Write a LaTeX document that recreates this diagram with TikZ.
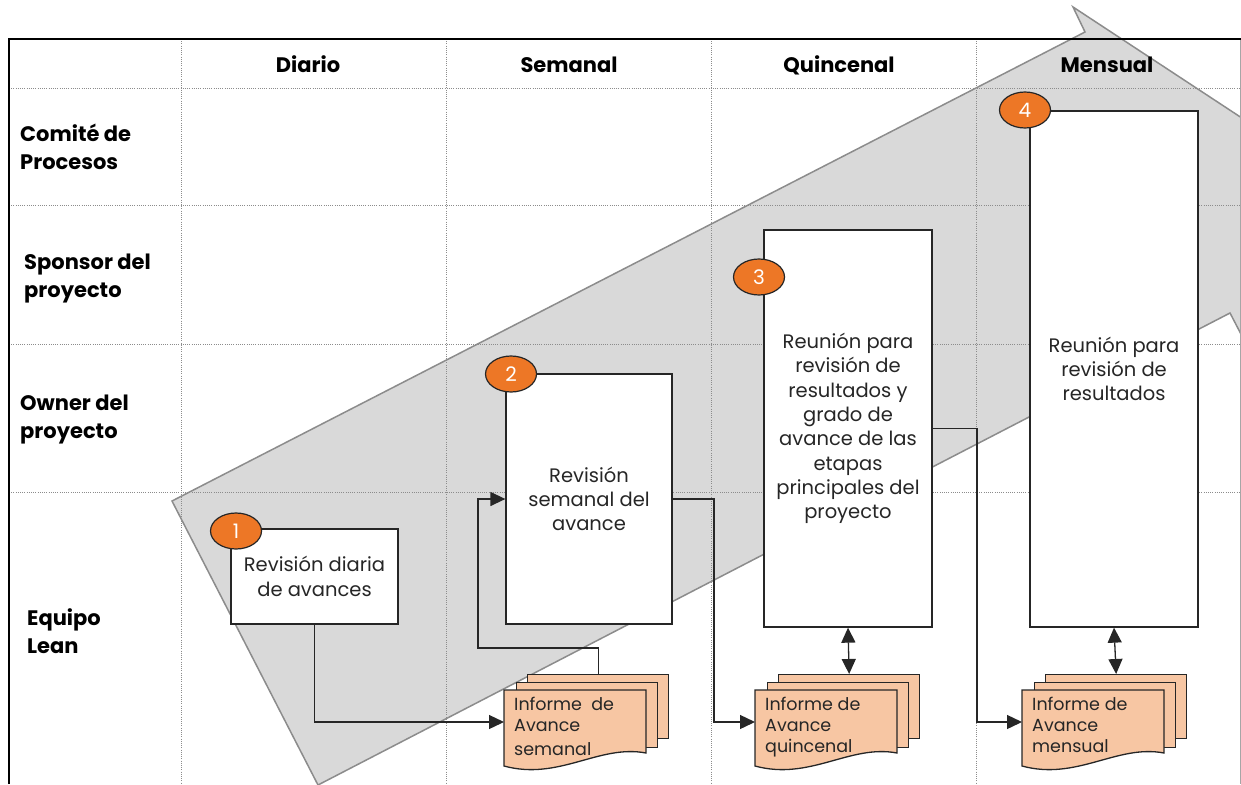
\documentclass[tikz,border=0pt]{standalone}
\usepackage{fontspec}
\setmainfont{Poppins}
\usetikzlibrary{arrows.meta,shapes.geometric}
\definecolor{bandfill}{HTML}{D9D9D9}
\definecolor{bandedge}{HTML}{8C8C8C}
\definecolor{badgefill}{HTML}{ED7726}
\definecolor{docfill}{HTML}{F7C6A3}
\definecolor{ink}{HTML}{262626}

% stack of three report sheets: name, left x of the front sheet, baseline of last line, text
\newcommand\docstack[4]{%
  \node[sheet, anchor=north west, minimum width=141pt, minimum height=64pt] (#1-back) at ({#2+23},674) {};
  \node[sheet, anchor=north west, minimum width=141pt, minimum height=65pt] (#1-mid) at ({#2+12},682) {};
  \path[sheet] (#2,690) -- ({#2+142},690) -- ({#2+142},753)
     .. controls ({#2+95},744) and ({#2+55},781) .. (#2,766) -- cycle;
  \node[inner sep=0, anchor=north west, minimum width=142pt, minimum height=76pt] (#1) at (#2,690) {};
  \coordinate (#1-in) at (#2,722);
  \node[doctext] (#1-text) at ({#2+10},#3) {#4};
}

\begin{document}
\begin{tikzpicture}[x=1pt,y=-1pt,
  grid/.style={draw=black!45, line width=0.8pt, dash pattern=on 1pt off 1.2pt},
  colhead/.style={font=\fontsize{21}{28}\selectfont\bfseries, anchor=base, inner sep=0},
  role/.style={font=\fontsize{21}{28}\selectfont\bfseries, anchor=base west, align=left, inner sep=0},
  task/.style={draw=ink, fill=white, line width=1.3pt, align=center, inner sep=0,
     font=\fontsize{19.5}{24.3}\selectfont, text=ink},
  badge/.style={ellipse, draw=ink, fill=badgefill, line width=1.2pt, minimum width=51pt,
     minimum height=36pt, inner sep=0, text=white, font=\fontsize{20}{20}\selectfont},
  link/.style={draw=ink, line width=1.3pt},
  tip/.style={arrows={-Triangle[length=15pt,width=14pt]}},
  both/.style={arrows={Triangle[length=15pt,width=14pt]-Triangle[length=15pt,width=14pt]}},
  sheet/.style={draw=ink, fill=docfill, line width=1.3pt, inner sep=0},
  doctext/.style={font=\fontsize{17.5}{21}\selectfont, anchor=base west, align=left, inner sep=0, text=ink}
]
\useasboundingbox (0,0) rectangle (1241,784);

% progression band behind the table
\begin{scope}
  \clip (0,0) rectangle (1241,784);
  \path[fill=bandfill, draw=bandedge, line width=1.5pt]
    (172,501) -- (1085,32) -- (1073,7) -- (1251,124) -- (1243,338) -- (1230,313) -- (318,785) -- cycle;
\end{scope}

% table grid
\foreach \x in {181,446,711,976} \draw[grid] (\x,39) -- (\x,784);
\foreach \y in {88,205,344,492} \draw[grid] (9,\y) -- (1241,\y);
\draw[black!35, line width=1pt] (1240,39) -- (1240,784);
\draw[black, line width=1.4pt] (9,784) -- (9,39) -- (1241,39);

% column headings
\node[colhead] (h1) at (308,72) {Diario};
\node[colhead] (h2) at (569,72) {Semanal};
\node[colhead] (h3) at (839,72) {Quincenal};
\node[colhead] (h4) at (1107,72) {Mensual};

% row headings (anchored on the baseline of the last line)
\node[role] (r1) at (20,169) {Comité de\\Procesos};
\node[role] (r2) at (24,297) {Sponsor del\\proyecto};
\node[role] (r3) at (20,438) {Owner del\\proyecto};
\node[role] (r4) at (27,653) {Equipo\\Lean};

% activities
\node[task, minimum width=167pt, minimum height=95pt] (b1) at (314.5,576.5) {Revisión diaria\\de avances};
\node[task, minimum width=166pt, minimum height=250pt] (b2) at (589,499) {Revisión\\semanal del\\avance};
\node[task, minimum width=168pt, minimum height=397pt] (b3) at (848,428.5)
  {Reunión para\\revisión de\\resultados y\\grado de\\avance de las\\etapas\\principales del\\proyecto};
\node[task, minimum width=168pt, minimum height=516pt] (b4) at (1114,369) {Reunión para\\revisión de\\resultados};

\node[badge] (n1) at (236,531) {1};
\node[badge] (n2) at (511,374) {2};
\node[badge] (n3) at (759,277) {3};
\node[badge] (n4) at (1025,110) {4};

% reports
\docstack{ds}{504}{755}{Informe\ \ de\\Avance\\[3pt]semanal}
\docstack{dq}{755}{752}{Informe de\\Avance\\quincenal}
\docstack{dm}{1022}{752}{Informe de\\Avance\\mensual}

% flows
\coordinate (loop) at (478,648);
\coordinate (r2) at (714,722);
\coordinate (r3) at (977,722);
\draw[link, tip] (b1.south) |- (ds-in);
\draw[link, tip] (ds-back.north) |- (loop) |- (b2.west);
\draw[link, tip] (b2.east) -| (r2) -- (dq-in);
\draw[link, tip] (b3.east) -| (r3) -- (dm-in);
\draw[link, both] (b3.south) -- (dq-back.north);
\draw[link, both] (b4.south) -- (dm-back.north);
\end{tikzpicture}
\end{document}
